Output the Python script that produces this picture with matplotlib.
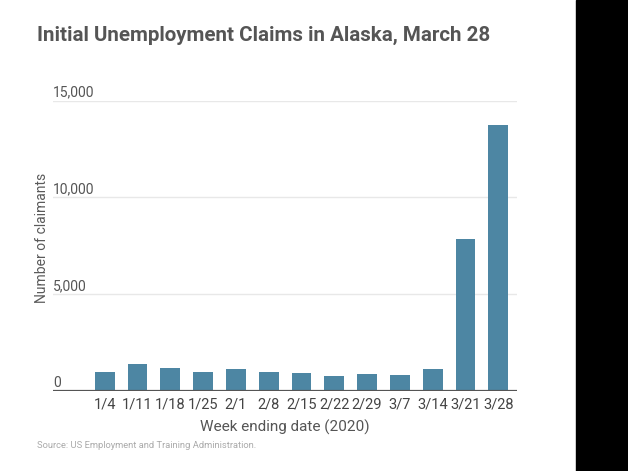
import numpy as np
import matplotlib
matplotlib.use('Agg')
import matplotlib.pyplot as plt
import matplotlib.transforms as mtransforms
from matplotlib import font_manager as fm
from matplotlib.patches import Rectangle

# ---- data ----
weeks = ['1/4', '1/11', '1/18', '1/25', '2/1', '2/8', '2/15', '2/22',
         '2/29', '3/7', '3/14', '3/21', '3/28']
claims = [1000, 1390, 1185, 1000, 1140, 1000, 930, 790, 890, 840, 1145, 7830, 13750]
y_ticks = [0, 5000, 10000, 15000]
y_tick_labels = ['0', '5,000', '10,000', '15,000']

title = 'Initial Unemployment Claims in Alaska, March 28'
x_label = 'Week ending date (2020)'
y_label = 'Number of claimants'
source = 'Source: US Employment and Training Administration.'

names = {f.name for f in fm.fontManager.ttflist}
narrow = 'Liberation Sans Narrow' if 'Liberation Sans Narrow' in names else 'Roboto'
plt.rcParams['font.family'] = ['Roboto', 'DejaVu Sans']

W, H = 628, 471
fig = plt.figure(figsize=(W / 100, H / 100), dpi=100)
fig.patch.set_facecolor('white')

left, right, top, bottom = 52.7, 516.7, 100.7, 391.0
ax = fig.add_axes([left / W, 1 - bottom / H, (right - left) / W, (bottom - top) / H])

x = np.arange(len(weeks))
ax.bar(x, claims, width=0.6, color='#4d86a3', zorder=2)
ax.set_xlim(-1.585, len(weeks) - 1 + 0.56)
ax.set_ylim(0, 15000)

for sp in ax.spines.values():
    sp.set_visible(False)
ax.set_yticks(y_ticks)
ax.yaxis.grid(True, color='#e8e8e8', lw=1, zorder=0)
ax.tick_params(axis='y', length=0, labelleft=False)
ax.axhline(0, color='#555555', lw=1.6, zorder=3)

trans = mtransforms.blended_transform_factory(ax.transAxes, ax.transData)
for v, lab in zip(y_ticks, y_tick_labels):
    ax.annotate(lab, (0, v), xycoords=trans, xytext=(0.3, 3.0),
                textcoords='offset points', ha='left', va='baseline',
                fontsize=10, color='#555555')

ax.set_xticks(x, weeks)
ax.tick_params(axis='x', length=0, pad=4.5, labelsize=10.5, labelcolor='#444444')
ax.set_xlabel(x_label, fontsize=11, color='#555555', labelpad=6)

fig.text(42 / W, 1 - 237.5 / H, y_label, rotation=90, ha='center', va='center',
         fontsize=10, color='#5a5a5a')

t = fig.text(36.7 / W, 1 - 41 / H, title, ha='left', va='baseline',
             fontsize=17, fontweight='bold', color='#555555', family=[narrow, 'Roboto'])
s = fig.text(36.7 / W, 1 - 448 / H, source, ha='left', va='baseline',
             fontsize=8, color='#aaaaaa', family=[narrow, 'Roboto'])

r = fig.canvas.get_renderer()
for txt, target in ((t, 453.0), (s, 222.0)):
    w = txt.get_window_extent(r).width
    txt.set_fontsize(txt.get_fontsize() * target / w)

fig.add_artist(Rectangle((576 / W, 0), 1 - 576 / W, 1, transform=fig.transFigure,
                         color='black', zorder=10))

fig.savefig('out.png', dpi=100)
